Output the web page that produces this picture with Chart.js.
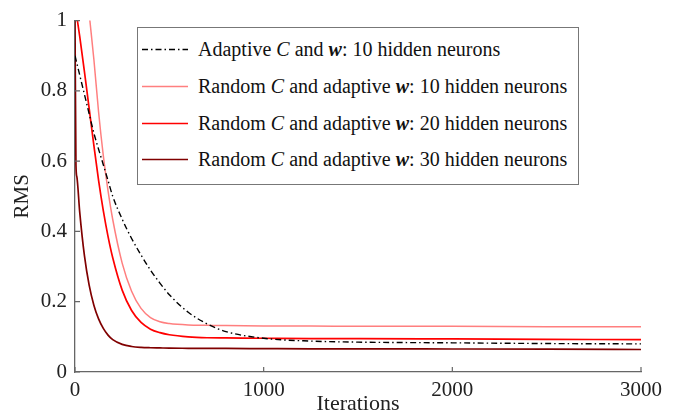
<!DOCTYPE html>
<html>
<head>
<meta charset="utf-8">
<title>RMS vs iterations</title>
<script src="https://cdn.jsdelivr.net/npm/chart.js@4.4.1/dist/chart.umd.min.js"></script>
<style>
  html, body { margin: 0; padding: 0; background: #fff; }
  #wrap { position: relative; width: 678px; height: 415px; }
  #legend {
    position: absolute; left: 137px; top: 27px; width: 440px; height: 156px;
    border: 1px solid #777; background: #fff;
    font-family: "Liberation Serif", "DejaVu Serif", serif; font-size: 20px; color: #111;
  }
  .row { position: absolute; left: 0; width: 100%; height: 24px; line-height: 24px; white-space: nowrap; }
  .row svg { position: absolute; left: 4px; top: 11px; }
  .row .t { position: absolute; left: 60px; }
  .m { font-style: italic; }
  .mb { font-style: italic; font-weight: bold; }
</style>
</head>
<body>
<div id="wrap">
  <canvas id="rmsChart" width="678" height="415"></canvas>
  <div id="legend"></div>
</div>
<script>
// data
var iterations = [0, 5, 10, 25, 50, 75, 100, 125, 150, 175, 200, 250, 300, 350, 400, 450, 500, 600, 700, 800, 1000, 1250, 1500, 2000, 2500, 3000];
var adaptive10 = [0.90, 0.889, 0.878, 0.845, 0.79, 0.735, 0.68, 0.634, 0.59, 0.545, 0.50, 0.435, 0.38, 0.333, 0.29, 0.253, 0.22, 0.17, 0.137, 0.115, 0.096, 0.088, 0.085, 0.083, 0.081, 0.080];
var random10 = [1.53, 1.49, 1.45, 1.34, 1.17, 1.02, 0.89, 0.74, 0.616, 0.516, 0.434, 0.31, 0.23, 0.181, 0.155, 0.143, 0.138, 0.134, 0.133, 0.132, 0.131, 0.131, 0.130, 0.130, 0.129, 0.129];
var random20 = [1.05, 1.03, 1.01, 0.955, 0.855, 0.75, 0.645, 0.545, 0.459, 0.386, 0.325, 0.233, 0.175, 0.141, 0.122, 0.112, 0.106, 0.100, 0.0975, 0.097, 0.096, 0.095, 0.095, 0.094, 0.093, 0.092];
var random30 = [1.0, 0.59, 0.555, 0.455, 0.331, 0.247, 0.19, 0.151, 0.124, 0.105, 0.092, 0.0785, 0.0725, 0.070, 0.069, 0.0685, 0.068, 0.0675, 0.067, 0.067, 0.0665, 0.066, 0.066, 0.0655, 0.065, 0.064];
var xTicks = [0, 1000, 2000, 3000];
var yTicks = [0, 0.2, 0.4, 0.6, 0.8, 1];

// legend labels: text before C, between C and w, after w
var labels = [
  ['Adaptive ', ' and ', ': 10 hidden neurons'],
  ['Random ', ' and adaptive ', ': 10 hidden neurons'],
  ['Random ', ' and adaptive ', ': 20 hidden neurons'],
  ['Random ', ' and adaptive ', ': 30 hidden neurons']
];
var seriesValues = [adaptive10, random10, random20, random30];
var lineColors = ['#000000', '#ff7f7f', '#ff0000', '#800000'];
var lineWidths = [1.4, 1.5, 1.7, 1.7];
var lineDashes = [[6, 3, 1.5, 3], [], [], []];

function points(values) {
  return values.map(function(v, i) { return { x: iterations[i], y: v }; });
}

var datasets = seriesValues.map(function(vals, i) {
  return {
    data: points(vals),
    borderColor: lineColors[i],
    borderWidth: lineWidths[i],
    borderDash: lineDashes[i],
    pointRadius: 0,
    fill: false,
    cubicInterpolationMode: 'monotone',
    clip: 0
  };
});

// legend box
var legend = document.getElementById('legend');
var rowTops = [9, 46, 83, 119];
labels.forEach(function(lb, i) {
  var row = document.createElement('div');
  row.className = 'row';
  row.style.top = rowTops[i] + 'px';
  var dash = lineDashes[i].length ? ' stroke-dasharray="' + lineDashes[i].join(' ') + '"' : '';
  row.innerHTML = '<svg width="46" height="3"><line x1="0" y1="1.5" x2="46" y2="1.5" stroke="' + lineColors[i] +
    '" stroke-width="' + lineWidths[i] + '"' + dash + '/></svg>' +
    '<span class="t">' + lb[0] + '<span class="m">C</span>' + lb[1] + '<span class="mb">w</span>' + lb[2] + '</span>';
  legend.appendChild(row);
});

// inward tick marks on both axes
var tickMarks = {
  id: 'tickMarks',
  afterDraw: function(chart) {
    var ctx = chart.ctx, a = chart.chartArea;
    var xs = chart.scales.x, ys = chart.scales.y;
    ctx.save();
    ctx.strokeStyle = '#666';
    ctx.lineWidth = 1.2;
    ctx.beginPath();
    xTicks.forEach(function(v) {
      var px = xs.getPixelForValue(v);
      ctx.moveTo(px, a.bottom);
      ctx.lineTo(px, a.bottom - 5);
    });
    yTicks.forEach(function(v) {
      var py = ys.getPixelForValue(v);
      ctx.moveTo(a.left, py);
      ctx.lineTo(a.left + 5, py);
    });
    ctx.stroke();
    ctx.restore();
  }
};

var serif = '"Liberation Serif", "DejaVu Serif", serif';

new Chart(document.getElementById('rmsChart'), {
  type: 'line',
  data: { datasets: datasets },
  options: {
    responsive: false,
    animation: false,
    layout: { padding: { left: 0, right: 37, top: 15, bottom: 0 } },
    plugins: { legend: { display: false }, tooltip: { enabled: false } },
    scales: {
      x: {
        type: 'linear',
        min: 0, max: 3000,
        afterBuildTicks: function(s) { s.ticks = xTicks.map(function(v) { return { value: v }; }); },
        afterFit: function(s) { s.height = 43; },
        grid: { display: false, drawTicks: false },
        border: { display: true, color: '#666', width: 1.3 },
        ticks: { color: '#222', padding: 6, maxRotation: 0, font: { family: serif, size: 21 },
                 callback: function(v) { return String(v); } },
        title: { display: true, text: 'Iterations', color: '#222', padding: { top: 0, bottom: 0 }, font: { family: serif, size: 22, lineHeight: 1.0 } }
      },
      y: {
        min: 0, max: 1,
        afterBuildTicks: function(s) { s.ticks = yTicks.map(function(v) { return { value: v }; }); },
        afterFit: function(s) { s.width = 75; },
        grid: { display: false, drawTicks: false },
        border: { display: true, color: '#666', width: 1.3 },
        ticks: { color: '#222', padding: 8, font: { family: serif, size: 21 },
                 callback: function(v) { return String(v); } },
        title: { display: true, text: 'RMS', color: '#222', padding: { top: 10, bottom: 0 }, font: { family: serif, size: 21 } }
      }
    }
  },
  plugins: [tickMarks]
});
</script>
</body>
</html>
